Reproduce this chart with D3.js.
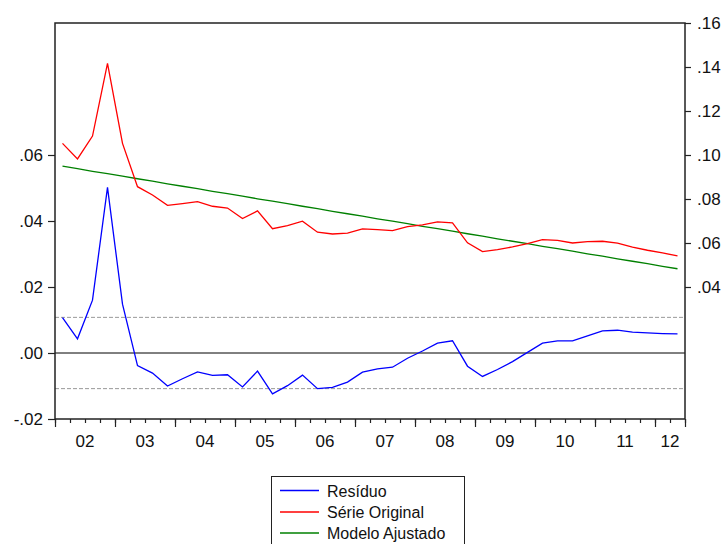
<!DOCTYPE html>
<html>
<head>
<meta charset="utf-8">
<script src="https://cdn.jsdelivr.net/npm/d3@7"></script>
<style>
  html, body { margin: 0; padding: 0; background: #fff; }
  svg { display: block; font-family: "Liberation Sans", Arial, sans-serif; }
</style>
</head>
<body>
<svg id="chart" width="724" height="544"></svg>
<script>
const quarters = [
  "2002Q1","2002Q2","2002Q3","2002Q4","2003Q1","2003Q2","2003Q3","2003Q4",
  "2004Q1","2004Q2","2004Q3","2004Q4","2005Q1","2005Q2","2005Q3","2005Q4",
  "2006Q1","2006Q2","2006Q3","2006Q4","2007Q1","2007Q2","2007Q3","2007Q4",
  "2008Q1","2008Q2","2008Q3","2008Q4","2009Q1","2009Q2","2009Q3","2009Q4",
  "2010Q1","2010Q2","2010Q3","2010Q4","2011Q1","2011Q2","2011Q3","2011Q4",
  "2012Q1","2012Q2"
];
const residuo = [
  0.0107, 0.0043, 0.0160, 0.0502, 0.0148, -0.0038, -0.0061, -0.0100,
  -0.0078, -0.0057, -0.0068, -0.0066, -0.0103, -0.0055, -0.0124, -0.0099,
  -0.0067, -0.0108, -0.0104, -0.0088, -0.0058, -0.0048, -0.0043, -0.0016,
  0.0006, 0.0030, 0.0037, -0.0040, -0.0071, -0.0050, -0.0026, 0.0002,
  0.0030, 0.0037, 0.0037, 0.0052, 0.0067, 0.0069, 0.0063, 0.0061,
  0.0059, 0.0058
];
const serieOriginal = [
  0.1053, 0.0982, 0.1086, 0.1417, 0.1053, 0.0856, 0.0818, 0.0771,
  0.0779, 0.0788, 0.0767, 0.0759, 0.0711, 0.0746, 0.0665, 0.0679,
  0.0699, 0.0649, 0.0641, 0.0645, 0.0664, 0.0661, 0.0656, 0.0674,
  0.0682, 0.0696, 0.0692, 0.0601, 0.0561, 0.0570, 0.0582, 0.0597,
  0.0615, 0.0612, 0.0600, 0.0606, 0.0608, 0.0599, 0.0581, 0.0567,
  0.0555, 0.0541
];
const modeloAjustado = [
  0.0949, 0.0938, 0.0926, 0.0915, 0.0904, 0.0892, 0.0881, 0.0869,
  0.0858, 0.0847, 0.0835, 0.0824, 0.0813, 0.0801, 0.0790, 0.0779,
  0.0767, 0.0756, 0.0744, 0.0733, 0.0722, 0.0710, 0.0699, 0.0688,
  0.0676, 0.0665, 0.0654, 0.0642, 0.0631, 0.0619, 0.0608, 0.0597,
  0.0585, 0.0574, 0.0563, 0.0551, 0.0540, 0.0528, 0.0517, 0.0506,
  0.0494, 0.0483
];
const leftTicks = [-0.02, 0.00, 0.02, 0.04, 0.06];
const leftTickLabels = ["-.02", ".00", ".02", ".04", ".06"];
const rightTicks = [0.04, 0.06, 0.08, 0.10, 0.12, 0.14, 0.16];
const rightTickLabels = [".04", ".06", ".08", ".10", ".12", ".14", ".16"];
const years = ["2002","2003","2004","2005","2006","2007","2008","2009","2010","2011","2012"];
const yearLabels = ["02","03","04","05","06","07","08","09","10","11","12"];
const seBand = 0.0108;
const seriesNames = ["Resíduo", "Série Original", "Modelo Ajustado"];
const seriesColors = ["#0000ff", "#ff0000", "#008000"];

const svg = d3.select("#chart");
const L = 55, R = 685, T = 23, B = 419;

const x = d3.scaleLinear().domain([-0.5, quarters.length - 0.5]).range([L, R]);
const yL = d3.scaleLinear().domain([-0.02, 0.10]).range([B, T]);
const yR = d3.scaleLinear().domain([-0.02, 0.16]).range([B, T]);

// Left axis
const axL = svg.append("g").attr("transform", `translate(${L},0)`)
  .call(d3.axisLeft(yL).tickValues(leftTicks).tickSize(7).tickPadding(5)
    .tickFormat((d, i) => leftTickLabels[i]));
// Right axis
const axR = svg.append("g").attr("transform", `translate(${R},0)`)
  .call(d3.axisRight(yR).tickValues(rightTicks).tickSize(6).tickPadding(6)
    .tickFormat((d, i) => rightTickLabels[i]));
[axL, axR].forEach(g => {
  g.select(".domain").remove();
  g.selectAll("line").attr("stroke", "#222").attr("stroke-width", 1.2);
  g.selectAll("text").attr("font-size", 17).attr("fill", "#111")
    .attr("font-family", "Liberation Sans, Arial, sans-serif");
});

// Bottom axis: quarter (minor) and year (major) ticks
const qBounds = d3.range(quarters.length + 1).map(i => i - 0.5);
const yearBounds = qBounds.filter((b, i) => i % 4 === 0 || i === quarters.length);
const axMinor = svg.append("g").attr("transform", `translate(0,${B})`)
  .call(d3.axisBottom(x).tickValues(qBounds).tickSize(4).tickFormat(""));
const axMajor = svg.append("g").attr("transform", `translate(0,${B})`)
  .call(d3.axisBottom(x).tickValues(yearBounds).tickSize(8).tickFormat(""));
[axMinor, axMajor].forEach(g => {
  g.select(".domain").remove();
  g.selectAll("line").attr("stroke", "#222").attr("stroke-width", 1.2);
});

// Year labels centred on the quarters of each year
const labelG = svg.append("g").attr("font-size", 17).attr("fill", "#111")
  .attr("text-anchor", "middle");
years.forEach((yr, k) => {
  const idx = quarters.map((q, i) => q.startsWith(yr) ? i : -1).filter(i => i >= 0);
  let cx = (x(d3.min(idx) - 0.5) + x(d3.max(idx) + 0.5)) / 2;
  const t = labelG.append("text").attr("y", B + 28).text(yearLabels[k]);
  const w = t.node().getComputedTextLength();
  cx = Math.min(cx, R - w / 2);
  t.attr("x", cx);
});

// Std. error band lines
[seBand, -seBand].forEach(v => {
  svg.append("line").attr("x1", L).attr("x2", R)
    .attr("y1", yL(v)).attr("y2", yL(v))
    .attr("stroke", "#999").attr("stroke-width", 1)
    .attr("stroke-dasharray", "4,2");
});
// Zero line
svg.append("line").attr("x1", L).attr("x2", R)
  .attr("y1", yL(0)).attr("y2", yL(0))
  .attr("stroke", "#000").attr("stroke-width", 1);

// Series lines
const lineL = d3.line().x((d, i) => x(i)).y(d => yL(d));
const lineR = d3.line().x((d, i) => x(i)).y(d => yR(d));
svg.append("path").datum(modeloAjustado).attr("d", lineR)
  .attr("fill", "none").attr("stroke", seriesColors[2]).attr("stroke-width", 1.3);
svg.append("path").datum(serieOriginal).attr("d", lineR)
  .attr("fill", "none").attr("stroke", seriesColors[1]).attr("stroke-width", 1.3);
svg.append("path").datum(residuo).attr("d", lineL)
  .attr("fill", "none").attr("stroke", seriesColors[0]).attr("stroke-width", 1.3);

// Frame
svg.append("rect").attr("x", L).attr("y", T).attr("width", R - L).attr("height", B - T)
  .attr("fill", "none").attr("stroke", "#222").attr("stroke-width", 1.5);

// Legend
const lg = svg.append("g");
lg.append("rect").attr("x", 271.5).attr("y", 476.5).attr("width", 193).attr("height", 80)
  .attr("fill", "#fff").attr("stroke", "#222").attr("stroke-width", 1);
const rowsY = [490.5, 512, 533];
seriesNames.forEach((name, i) => {
  lg.append("line").attr("x1", 280).attr("x2", 319).attr("y1", rowsY[i]).attr("y2", rowsY[i])
    .attr("stroke", seriesColors[i]).attr("stroke-width", 1.3);
  lg.append("text").attr("x", 327).attr("y", rowsY[i] + 6).attr("font-size", 16)
    .attr("fill", "#111").text(name);
});
</script>
</body>
</html>
